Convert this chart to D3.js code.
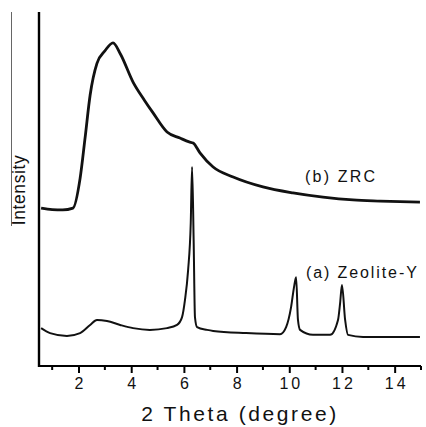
<!DOCTYPE html>
<html>
<head>
<meta charset="utf-8">
<script src="https://cdn.jsdelivr.net/npm/d3@7"></script>
<style>
  body { margin: 0; background: #fff; }
  text { font-family: "Liberation Sans", Arial, sans-serif; fill: #111; }
</style>
</head>
<body>
<div id="chart"></div>
<script>
//XRD patterns, intensity in arbitrary units (0-100 of the frame height)
var zrcTheta = [0.58, 1.0, 1.4, 1.79, 2.06, 2.25, 2.44, 2.70, 3.0, 3.31, 3.6, 4.07, 4.5, 4.83, 5.36, 5.85, 6.2, 6.35, 6.61, 7.11, 7.87, 9.0, 10.14, 11.28, 12.42, 13.45, 14.96];
var zrcInt   = [44.6, 44.2, 44.1, 44.6, 53.0, 64.5, 76.5, 85.5, 89.0, 91.3, 88.0, 80.2, 75.1, 71.5, 66.1, 64.4, 63.3, 63.0, 60.2, 56.2, 53.4, 50.6, 48.9, 47.7, 46.9, 46.6, 46.3];

var zeoTheta = [0.58, 0.92, 1.56, 2.06, 2.44, 2.70, 3.08, 3.58, 4.07, 4.71, 5.36, 5.74, 5.93, 6.04, 6.16, 6.26, 6.31, 6.37, 6.42, 6.50, 6.88, 7.11, 8.36, 9.65, 9.88, 10.07, 10.18, 10.26, 10.33, 10.41, 10.90, 11.55, 11.85, 11.93, 12.00, 12.12, 12.23, 12.80, 13.94, 14.96];
var zeoInt   = [10.7, 9.3, 8.5, 9.3, 11.6, 13.0, 12.7, 11.6, 10.7, 10.2, 10.7, 11.6, 13.8, 18.6, 27.1, 40.4, 56.2, 35.6, 13.8, 11.0, 10.2, 9.9, 9.3, 9.0, 11.0, 16.7, 22.3, 25.1, 13.0, 10.2, 8.8, 8.8, 13.0, 17.8, 22.9, 13.0, 8.8, 8.2, 8.2, 8.2];

var majorTicks = [2, 4, 6, 8, 10, 12, 14];
var minorTicks = [1, 3, 5, 7, 9, 11, 13, 15];

var curveLabels = ['(b) ZRC', '(a) Zeolite-Y'];

var W = 426, H = 427;
var margin = { top: 12, right: 5, bottom: 61, left: 39 },
    width = W - margin.left - margin.right,
    height = H - margin.top - margin.bottom;

var svg = d3.select('#chart').append('svg')
    .attr('width', W)
    .attr('height', H);

var g = svg.append('g')
    .attr('transform', 'translate(' + margin.left + ',' + margin.top + ')');

var xScale = d3.scaleLinear().domain([0.5, 15]).range([0, width]);
var yScale = d3.scaleLinear().domain([0, 100]).range([height, 0]);

var line = d3.line()
    .x(function(d) { return xScale(d[0]); })
    .y(function(d) { return yScale(d[1]); })
    .curve(d3.curveMonotoneX);

//Curves
g.append('path')
    .datum(d3.zip(zrcTheta, zrcInt))
    .attr('fill', 'none')
    .attr('stroke', '#111')
    .attr('stroke-width', 2.8)
    .attr('stroke-linejoin', 'round')
    .attr('d', line);

g.append('path')
    .datum(d3.zip(zeoTheta, zeoInt))
    .attr('fill', 'none')
    .attr('stroke', '#111')
    .attr('stroke-width', 2)
    .attr('stroke-linejoin', 'round')
    .attr('d', line);

//Axes
var xAxis = g.append('g')
    .attr('transform', 'translate(0,' + height + ')')
    .call(d3.axisBottom(xScale).tickValues(majorTicks).tickSize(7).tickPadding(5).tickFormat(d3.format('d')));
xAxis.select('.domain').attr('stroke', '#000').attr('stroke-width', 2.2).attr('d', 'M0,0H' + width);
xAxis.selectAll('.tick line').attr('stroke', '#000').attr('stroke-width', 2);
xAxis.selectAll('.tick text')
    .attr('font-size', 16)
    .attr('letter-spacing', 3)
    .attr('dx', 1.5)
    .style('font-family', '"Liberation Sans", Arial, sans-serif')
    .attr('fill', '#111');

xAxis.selectAll('line.minor')
    .data(minorTicks)
    .enter()
    .append('line')
    .attr('class', 'minor')
    .attr('x1', function(d) { return xScale(d); })
    .attr('x2', function(d) { return xScale(d); })
    .attr('y1', 0)
    .attr('y2', 4)
    .attr('stroke', '#000')
    .attr('stroke-width', 2);

g.append('line')
    .attr('x1', 0).attr('x2', 0)
    .attr('y1', 0).attr('y2', height + 1)
    .attr('stroke', '#000')
    .attr('stroke-width', 2.4);

//thin line at the far left of the frame
svg.append('line')
    .attr('x1', 11.5).attr('x2', 11.5)
    .attr('y1', 12).attr('y2', 226)
    .attr('stroke', '#666')
    .attr('stroke-width', 1);

//Labels
svg.append('text')
    .attr('x', 305)
    .attr('y', 182)
    .attr('font-size', 16)
    .attr('letter-spacing', 2.2)
    .text(curveLabels[0]);

svg.append('text')
    .attr('x', 306)
    .attr('y', 278)
    .attr('font-size', 16)
    .attr('letter-spacing', 1.9)
    .text(curveLabels[1]);

svg.append('text')
    .attr('x', 240)
    .attr('y', 421)
    .attr('text-anchor', 'middle')
    .attr('font-size', 21)
    .attr('letter-spacing', 2.6)
    .text('2 Theta (degree)');

svg.append('text')
    .attr('transform', 'translate(25,190) rotate(-90)')
    .attr('text-anchor', 'middle')
    .attr('font-size', 17.5)
    .attr('letter-spacing', 0.6)
    .text('Intensity');
</script>
</body>
</html>
